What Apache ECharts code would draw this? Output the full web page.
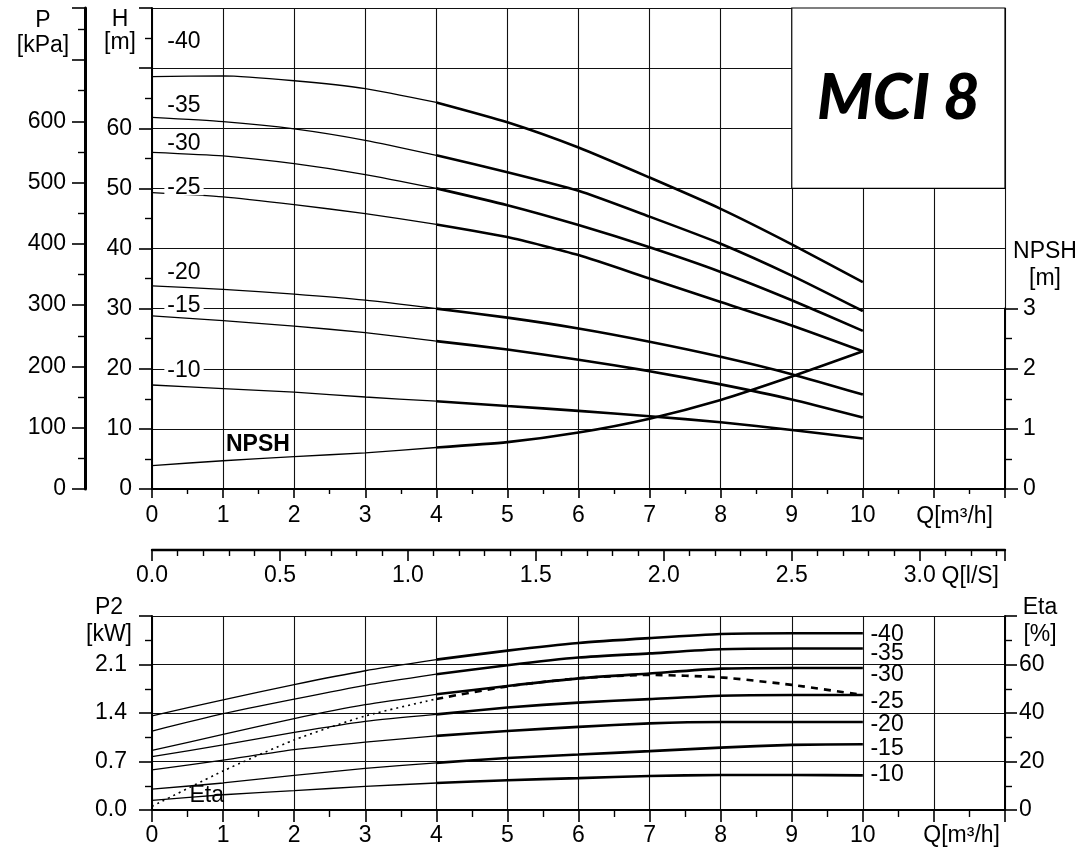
<!DOCTYPE html>
<html><head><meta charset="utf-8">
<script src="https://cdn.jsdelivr.net/npm/echarts@6/dist/echarts.min.js"></script>
<style>html,body{margin:0;padding:0;background:#fff}#c{width:1085px;height:851px}</style>
</head><body><div id="c"></div>
<script>
// ---------- data ----------
const Q = [0, 1, 2, 3, 4, 5, 6, 7, 8, 9, 10];          // flow m3/h
// head curves H [m]
const H_40 = [68.6, 68.7, 67.9, 66.6, 64.3, 61.0, 56.8, 51.8, 46.6, 40.7, 34.4];
const H_35 = [61.8, 61.1, 59.9, 58.0, 55.5, 52.7, 49.6, 45.3, 40.8, 35.5, 29.6];
const H_30 = [56.0, 55.4, 54.1, 52.3, 50.0, 47.2, 43.9, 40.2, 36.1, 31.4, 26.3];
const H_25 = [49.3, 48.6, 47.3, 45.8, 44.0, 41.9, 38.9, 35.0, 31.1, 27.2, 22.9];
const H_20 = [33.8, 33.2, 32.4, 31.4, 30.0, 28.5, 26.7, 24.5, 22.0, 19.1, 15.7];
const H_15 = [28.8, 28.0, 27.1, 26.0, 24.6, 23.2, 21.5, 19.6, 17.4, 14.9, 11.9];
const H_10 = [17.3, 16.7, 16.1, 15.3, 14.6, 13.8, 13.0, 12.1, 11.1, 9.8, 8.4];
const NPSH = [0.39, 0.47, 0.54, 0.60, 0.69, 0.78, 0.94, 1.17, 1.48, 1.87, 2.29];
// power curves P2 [kW]
const P2_40 = [1.36, 1.59, 1.81, 2.01, 2.17, 2.30, 2.41, 2.48, 2.54, 2.55, 2.55];
const P2_35 = [1.14, 1.39, 1.60, 1.80, 1.96, 2.09, 2.20, 2.26, 2.32, 2.33, 2.33];
const P2_30 = [0.86, 1.09, 1.32, 1.52, 1.67, 1.79, 1.90, 1.97, 2.04, 2.05, 2.05];
const P2_25 = [0.77, 0.94, 1.12, 1.28, 1.38, 1.48, 1.55, 1.60, 1.65, 1.66, 1.66];
const P2_20 = [0.58, 0.72, 0.87, 0.98, 1.07, 1.14, 1.20, 1.25, 1.27, 1.27, 1.27];
const P2_15 = [0.30, 0.39, 0.50, 0.60, 0.68, 0.75, 0.80, 0.85, 0.90, 0.94, 0.95];
const P2_10 = [0.14, 0.22, 0.28, 0.34, 0.39, 0.43, 0.46, 0.49, 0.505, 0.505, 0.50];
// efficiency [%]
const ETA = [1.5, 16.1, 28.9, 38.8, 45.8, 51.0, 54.3, 55.7, 54.7, 51.6, 47.4];
// curve labels (annotations, in data units)
const TOP_LABELS = [[0.45, 74.4, '-40'], [0.45, 63.8, '-35'], [0.45, 57.4, '-30'], [0.45, 50.2, '-25'],
                    [0.45, 36.0, '-20'], [0.45, 30.5, '-15'], [0.45, 19.7, '-10']];
const NPSH_LABEL = [[1.49, 7.3, 'NPSH']];
const BOT_LABELS = [[10.1, 2.534, '-40'], [10.1, 2.26, '-35'], [10.1, 1.955, '-30'], [10.1, 1.557, '-25'],
                    [10.1, 1.238, '-20'], [10.1, 0.883, '-15'], [10.1, 0.507, '-10']];
const ETA_LABEL = [[0.77, 5.8, 'Eta']];
const MODEL = 'MCI 8';
const SPLIT_Q = 4; // thin below, thick from here

// ---------- helpers ----------
const FONT = 'Liberation Sans';
const FS = 23;
const BLACK = '#000';
const pairs = (vals) => Q.map((q, i) => [q, vals[i]]);
function curve(vals, xi, yi, thinStyle, thickStyle, extra) {
  const d = pairs(vals);
  const a = d.filter(p => p[0] <= SPLIT_Q), b = d.filter(p => p[0] >= SPLIT_Q);
  const base = {type: 'line', xAxisIndex: xi, yAxisIndex: yi, showSymbol: false, symbol: 'none',
                smooth: 0.2, silent: true, z: 3};
  return [
    Object.assign({}, base, {data: a, lineStyle: Object.assign({color: BLACK, width: 1.3}, thinStyle)}),
    Object.assign({}, base, {data: b, lineStyle: Object.assign({color: BLACK, width: 2.6}, thickStyle)}, extra || {})
  ];
}
function labels(data, xi, yi, lab) {
  return {type: 'scatter', xAxisIndex: xi, yAxisIndex: yi, data: data, symbolSize: 1, silent: true, z: 5,
          itemStyle: {color: 'rgba(0,0,0,0)'},
          label: Object.assign({show: true, formatter: p => p.data[2], color: BLACK, fontFamily: FONT,
                                fontSize: FS, textBorderWidth: 0, textShadowBlur: 0, opacity: 1}, lab)};
}
const axisLine = (w) => ({show: true, onZero: false, lineStyle: {color: BLACK, width: w}});
const tick = (len) => ({show: true, length: len, lineStyle: {color: BLACK, width: 1.6}});
const minor = (n, len) => ({show: true, splitNumber: n, length: len, lineStyle: {color: BLACK, width: 1.4}});
const split = (s) => ({show: s, lineStyle: {color: '#111', width: 1.1}});
const lblStyle = {color: BLACK, fontFamily: FONT, fontSize: FS};

const qFmt = v => (v <= 10 && Math.abs(v - Math.round(v)) < 1e-6) ? String(Math.round(v)) : '';

const option = {
  animation: false,
  backgroundColor: '#fff',
  grid: [
    {left: 152, right: 80, top: 8, height: 481, outerBoundsMode: 'none', containLabel: false},
    {left: 152, right: 80, top: 308.6, height: 180.4, outerBoundsMode: 'none', containLabel: false},
    {left: 152, right: 80, top: 549, height: 1, outerBoundsMode: 'none', containLabel: false},
    {left: 152, right: 80, top: 616, height: 194, outerBoundsMode: 'none', containLabel: false}
  ],
  xAxis: [
    {gridIndex: 0, type: 'value', min: 0, max: 12, interval: 1, axisLine: axisLine(2), axisTick: tick(9),
     minorTick: minor(2, 5), splitLine: split(true),
     axisLabel: Object.assign({margin: 15, formatter: qFmt, showMaxLabel: false}, lblStyle),
     name: 'Q[m³/h]', nameLocation: 'end', nameGap: -12, nameMoveOverlap: false,
     nameTextStyle: Object.assign({align: 'right', verticalAlign: 'top', padding: [16, 0, 0, 0]}, lblStyle)},
    {gridIndex: 1, type: 'value', min: 0, max: 12, show: false},
    {gridIndex: 2, type: 'value', min: 0, max: 12 / 3.6, interval: 0.5, axisLine: axisLine(2.4), axisTick: tick(11),
     minorTick: minor(5, 6), splitLine: split(false),
     axisLabel: Object.assign({margin: 14, showMaxLabel: false,
       formatter: v => (v < 3.2 && Math.abs(v * 2 - Math.round(v * 2)) < 1e-6) ? v.toFixed(1) : ''}, lblStyle),
     name: 'Q[l/S]', nameLocation: 'end', nameGap: -6, nameMoveOverlap: false,
     nameTextStyle: Object.assign({align: 'right', verticalAlign: 'top', padding: [15, 0, 0, 0]}, lblStyle)},
    {gridIndex: 3, type: 'value', min: 0, max: 12, interval: 1, axisLine: axisLine(2), axisTick: tick(12),
     minorTick: minor(2, 7), splitLine: split(true),
     axisLabel: Object.assign({margin: 14, formatter: qFmt, showMaxLabel: false}, lblStyle),
     name: 'Q[m³/h]', nameLocation: 'end', nameGap: -5, nameMoveOverlap: false,
     nameTextStyle: Object.assign({align: 'right', verticalAlign: 'top', padding: [14, 0, 0, 0]}, lblStyle)}
  ],
  yAxis: [
    {gridIndex: 0, type: 'value', min: 0, max: 80, interval: 10, axisLine: axisLine(2), axisTick: tick(13),
     minorTick: minor(2, 7), splitLine: split(true),
     axisLabel: Object.assign({margin: 20, formatter: v => v <= 60 ? String(v) : ''}, lblStyle),
     name: 'H\n[m]', nameLocation: 'end', nameGap: 0, nameMoveOverlap: false,
     nameTextStyle: Object.assign({align: 'center', verticalAlign: 'top', padding: [0, 64, 0, 0], lineHeight: 23}, lblStyle)},
    {gridIndex: 0, type: 'value', position: 'left', offset: 67, min: 0, max: 80 * 9.81, interval: 100,
     axisLine: axisLine(3), axisTick: tick(13), minorTick: minor(2, 7), splitLine: split(false),
     axisLabel: Object.assign({margin: 19, formatter: v => v <= 600 ? String(v) : ''}, lblStyle),
     name: 'P\n[kPa]', nameLocation: 'end', nameGap: 0, nameMoveOverlap: false,
     nameTextStyle: Object.assign({align: 'center', verticalAlign: 'top', padding: [0, 84, 0, 0], lineHeight: 25}, lblStyle)},
    {gridIndex: 1, type: 'value', position: 'right', min: 0, max: 3, interval: 1, axisLine: axisLine(2),
     axisTick: tick(13), minorTick: minor(2, 7), splitLine: split(false),
     axisLabel: Object.assign({margin: 18}, lblStyle),
     name: 'NPSH\n[m]', nameLocation: 'end', nameGap: 16, nameMoveOverlap: false,
     nameTextStyle: Object.assign({align: 'center', verticalAlign: 'bottom', padding: [0, 0, 0, 80], lineHeight: 27}, lblStyle)},
    {gridIndex: 2, type: 'value', show: false},
    {gridIndex: 3, type: 'value', min: 0, max: 2.8, interval: 0.7, axisLine: axisLine(2), axisTick: tick(13),
     minorTick: minor(2, 7), splitLine: split(true),
     axisLabel: Object.assign({margin: 25, formatter: v => v > 2.75 ? '' : v.toFixed(1)}, lblStyle),
     name: 'P2\n[kW]', nameLocation: 'end', nameGap: 22, nameMoveOverlap: false,
     nameTextStyle: Object.assign({align: 'center', verticalAlign: 'top', padding: [0, 86, 0, 0], lineHeight: 27}, lblStyle)},
    {gridIndex: 3, type: 'value', position: 'right', min: 0, max: 80, interval: 20, axisLine: axisLine(2),
     axisTick: tick(12), minorTick: minor(2, 7), splitLine: split(false),
     axisLabel: Object.assign({margin: 14, formatter: v => v < 80 ? String(v) : ''}, lblStyle),
     name: 'Eta\n[%]', nameLocation: 'end', nameGap: 22, nameMoveOverlap: false,
     nameTextStyle: Object.assign({align: 'center', verticalAlign: 'top', padding: [0, 0, 0, 70], lineHeight: 27}, lblStyle)}
  ],
  series: [
    ...curve(H_40, 0, 0, {}, {}, {
      markArea: {silent: true, z: 4,
        itemStyle: {color: '#fff', borderColor: BLACK, borderWidth: 1.2},
        label: {show: true, position: 'inside', formatter: MODEL, color: BLACK, fontFamily: 'Lato',
                fontWeight: 900, fontStyle: 'italic', fontSize: 63},
        data: [[{coord: [9, 50]}, {coord: [12, 80]}]]}
    }),
    ...curve(H_35, 0, 0), ...curve(H_30, 0, 0), ...curve(H_25, 0, 0),
    ...curve(H_20, 0, 0), ...curve(H_15, 0, 0), ...curve(H_10, 0, 0),
    ...curve(NPSH, 1, 2),
    ...curve(P2_40, 3, 4), ...curve(P2_35, 3, 4), ...curve(P2_30, 3, 4), ...curve(P2_25, 3, 4),
    ...curve(P2_20, 3, 4), ...curve(P2_15, 3, 4), ...curve(P2_10, 3, 4),
    ...curve(ETA, 3, 5, {type: [2, 4], width: 1.6}, {type: [7, 6], width: 2.6}),
    labels(TOP_LABELS, 0, 0, {position: 'inside', backgroundColor: '#fff', padding: [0, 3], lineHeight: 16}),
    labels(NPSH_LABEL, 0, 0, {position: 'inside', fontWeight: 'bold'}),
    labels(BOT_LABELS, 3, 4, {position: 'right', distance: 0, lineHeight: 18}),
    labels(ETA_LABEL, 3, 5, {position: 'inside'})
  ]
};
const chart = echarts.init(document.getElementById('c'));
chart.setOption(option);
</script></body></html>
